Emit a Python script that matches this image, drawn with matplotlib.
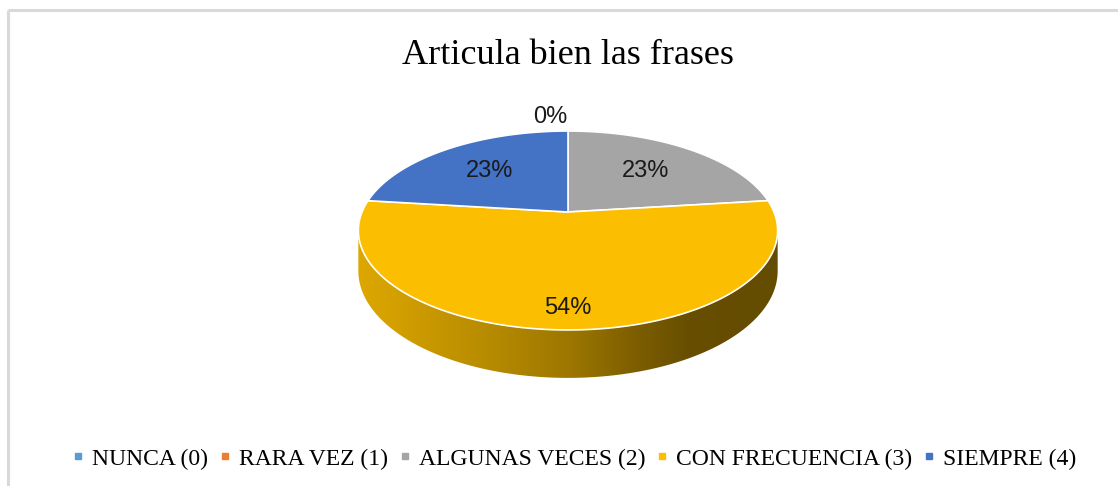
import numpy as np
import matplotlib
matplotlib.use("Agg")
import matplotlib.pyplot as plt
from matplotlib.lines import Line2D
from matplotlib.patches import Polygon

# ==========================================
# Datos del gráfico
# ==========================================
titulo = "Articula bien las frases"
categorias = ["NUNCA (0)", "RARA VEZ (1)", "ALGUNAS VECES (2)", "CON FRECUENCIA (3)", "SIEMPRE (4)"]
valores = [0, 0, 3, 7, 3]
colores = ["#5B9BD5", "#ED7D31", "#A5A5A5", "#FBBE00", "#4472C4"]

# ==========================================
# Geometría del pastel 3D (en píxeles de la figura)
# ==========================================
XC, R = 568.0, 206.0      # centro horizontal y radio
A_P, B_P, C_P = -56.6, 212.0, 0.186   # proyección en perspectiva
PROF = 39.0               # grosor del pastel


def proyectar(u, v, z=0.0):
    w = 1 + C_P * v
    x = XC + R * u / w
    y = (A_P * v + B_P) / w + PROF * z / w
    return x, y


def arco(t1, t2, z=0.0, n=120):
    t = np.radians(np.linspace(t1, t2, n))
    return proyectar(np.cos(t), np.sin(t), z)


fig = plt.figure(figsize=(11.18, 4.86), dpi=100)
ax = fig.add_axes([0, 0, 1, 1])
ax.set_xlim(0, 1118)
ax.set_ylim(486, 0)
ax.axis("off")

# marco gris del gráfico
ax.plot([8, 8], [486, 10], color="#D9D9D9", lw=2.2, solid_capstyle="butt")
ax.plot([8, 1118], [10, 10], color="#D9D9D9", lw=2.2, solid_capstyle="butt")

total = sum(valores)
angulos = []
ini = 90.0
for v in valores:
    fin = ini - 360.0 * v / total
    angulos.append((ini, fin))
    ini = fin

# caras laterales (solo la parte frontal visible)
lim_der = -np.degrees(np.arcsin(C_P))
lim_izq = -180 + np.degrees(np.arcsin(C_P))
xt = np.array([0.0, 0.07, 0.31, 0.51, 0.67, 0.79, 0.95, 1.0])
ft = np.array([0.88, 0.85, 0.73, 0.62, 0.49, 0.41, 0.40, 0.40])
for (a1, a2), col in zip(angulos, colores):
    # normalizamos el rango al intervalo frontal
    hi, lo = a1, a2
    while hi > 180:
        hi -= 360
        lo -= 360
    s_hi = min(hi, lim_der)
    s_lo = max(lo, lim_izq)
    if s_hi <= s_lo:
        continue
    xs_t, ys_t = arco(s_hi, s_lo, 0)
    xs_b, ys_b = arco(s_lo, s_hi, 1)
    pts = np.column_stack([np.concatenate([xs_t, xs_b]), np.concatenate([ys_t, ys_b])])
    poly = Polygon(pts, closed=True, facecolor="none", edgecolor="none")
    ax.add_patch(poly)
    x0, x1 = pts[:, 0].min(), pts[:, 0].max()
    y0, y1 = pts[:, 1].min(), pts[:, 1].max()
    xg = (np.linspace(x0, x1, 400) - (XC - R * 1.018)) / (2 * R * 1.018)
    f = np.interp(xg, xt, ft)
    base = np.array(matplotlib.colors.to_rgb(col))
    img = np.clip(f[None, :, None] * base[None, None, :], 0, 1)
    img = np.repeat(img, 4, axis=0)
    im = ax.imshow(img, extent=[x0, x1, y1, y0], aspect="auto", interpolation="bilinear", zorder=1)
    im.set_clip_path(poly)

# cara superior
for (a1, a2), col in zip(angulos, colores):
    if a1 == a2:
        continue
    xs, ys = arco(a1, a2, 0)
    x0, y0 = proyectar(0, 0)
    pts = np.column_stack([np.concatenate([[x0], xs]), np.concatenate([[y0], ys])])
    ax.add_patch(Polygon(pts, closed=True, facecolor=col, edgecolor="white", lw=1.2, zorder=2))

# etiquetas de datos
usados = set()
for (a1, a2), v in zip(angulos, valores):
    pct = f"{round(100 * v / total)}%"
    medio = np.radians((a1 + a2) / 2)
    if v == 0:
        if round(a1, 3) in usados:
            continue
        usados.add(round(a1, 3))
        x, y = proyectar(1.2 * np.cos(medio), 1.2 * np.sin(medio))
        ax.text(x - 1, y - 1, pct, ha="right", va="center", fontsize=17,
                family="Liberation Sans", color="#1A1A1A", zorder=3)
        continue
    r = 0.62 + 0.22 * max(0.0, -np.sin(medio))
    x, y = proyectar(r * np.cos(medio), r * np.sin(medio))
    ax.text(x, y, pct, ha="center", va="center", fontsize=17,
            family="Liberation Sans", color="#1A1A1A", zorder=3)

# título
ax.text(568, 55, titulo, ha="center", va="center", fontsize=26,
        family="Liberation Serif", color="black")

# leyenda
manejadores = [Line2D([], [], marker="s", linestyle="none", markersize=5, color=c) for c in colores]
fig.legend(manejadores, categorias, loc="center", bbox_to_anchor=(0.513, 1 - 459 / 486),
           ncol=5, frameon=False, prop={"family": "Liberation Serif", "size": 17},
           handlelength=0.6, handletextpad=0.3, columnspacing=0.4)

plt.savefig("out.png", dpi=100)
